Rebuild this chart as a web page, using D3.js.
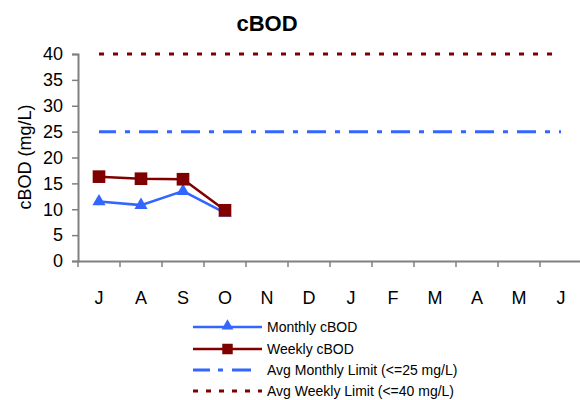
<!DOCTYPE html>
<html><head><meta charset="utf-8">
<script src="https://cdn.jsdelivr.net/npm/d3@7"></script>
<style>body{margin:0;background:#fff}svg{display:block;font-family:Arial,"Liberation Sans",sans-serif}</style>
</head><body><svg id="c" width="580" height="400"></svg>
<script>
const months = ["J","A","S","O","N","D","J","F","M","A","M","J"];
const monthlyCBOD = [11.5, 10.8, 13.5, 9.3];
const weeklyCBOD = [16.3, 15.9, 15.8, 9.8];
const monthlyLimit = 25;
const weeklyLimit = 40;
const yTicks = [0,5,10,15,20,25,30,35,40];
const legendLabels = ["Monthly cBOD","Weekly cBOD","Avg Monthly Limit (<=25 mg/L)","Avg Weekly Limit (<=40 mg/L)"];

const FF = 'Arial,"Liberation Sans",sans-serif';
const svg = d3.select("#c");
const L = 78, R = 582, T = 54, B = 261;
const idx = months.map((d,i)=>i);
const x = d3.scaleBand().domain(idx).range([L,R]);
const cx = i => x(i) + x.bandwidth()/2;
const y = d3.scaleLinear().domain([0,40]).range([B,T]);
const blue = "#3366ff", red = "#800000", grey = "#808080";

svg.append("text").attr("x",267).attr("y",31).attr("text-anchor","middle")
  .attr("font-size",22).attr("font-weight","bold").text("cBOD");

// y axis
const ya = svg.append("g").attr("transform",`translate(${L},0)`)
  .call(d3.axisLeft(y).tickValues(yTicks).tickSize(6).tickPadding(9));
ya.attr("font-family",FF);
ya.select(".domain").attr("stroke",grey).attr("stroke-width",2);
ya.selectAll(".tick line").attr("stroke",grey).attr("stroke-width",1.5);
ya.selectAll("text").attr("font-size",18).attr("fill","#000");

// x axis
const xa = svg.append("g").attr("transform",`translate(0,${B})`)
  .call(d3.axisBottom(x).tickSize(0).tickPadding(30).tickFormat(i=>months[i]));
xa.attr("font-family",FF);
xa.select(".domain").attr("stroke",grey).attr("stroke-width",2);
xa.selectAll("text").attr("font-size",18).attr("fill","#000");
svg.append("g").selectAll("line").data(d3.range(months.length+1)).join("line")
  .attr("x1",i=>L+i*x.step()).attr("x2",i=>L+i*x.step())
  .attr("y1",B).attr("y2",B+6).attr("stroke",grey).attr("stroke-width",1.5);

// y label
svg.append("text").attr("transform","translate(31,157) rotate(-90)")
  .attr("text-anchor","middle").attr("font-size",18).text("cBOD (mg/L)");

// limit lines
const x0 = cx(0), x1 = cx(months.length-1);
svg.append("line").attr("x1",x0).attr("x2",x1).attr("y1",y(weeklyLimit)).attr("y2",y(weeklyLimit))
  .attr("stroke",red).attr("stroke-width",3).attr("stroke-dasharray","5,9");
svg.append("line").attr("x1",x0).attr("x2",x1).attr("y1",y(monthlyLimit)).attr("y2",y(monthlyLimit))
  .attr("stroke",blue).attr("stroke-width",3).attr("stroke-dasharray","19,9,5,9").attr("stroke-dashoffset",2);

const line = d3.line().x((d,i)=>cx(i)).y(d=>y(d));
svg.append("path").datum(monthlyCBOD).attr("d",line).attr("fill","none").attr("stroke",blue).attr("stroke-width",2.5);
svg.append("path").datum(weeklyCBOD).attr("d",line).attr("fill","none").attr("stroke",red).attr("stroke-width",2.5);

const tri = d3.symbol().type(d3.symbolTriangle).size(75);
const sq = d3.symbol().type(d3.symbolSquare).size(160);
svg.append("g").selectAll("path").data(monthlyCBOD).join("path")
  .attr("d",tri).attr("transform",(d,i)=>`translate(${cx(i)},${y(d)})`).attr("fill",blue);
svg.append("g").selectAll("path").data(weeklyCBOD).join("path")
  .attr("d",sq).attr("transform",(d,i)=>`translate(${cx(i)},${y(d)})`).attr("fill",red);

// legend
const lg = svg.append("g");
const ly = [327,349,370,391];
const lx0 = 193, lx1 = 262;
lg.append("line").attr("x1",lx0).attr("x2",lx1).attr("y1",ly[0]).attr("y2",ly[0]).attr("stroke",blue).attr("stroke-width",2.5);
lg.append("path").attr("d",d3.symbol().type(d3.symbolTriangle).size(60)).attr("transform",`translate(${(lx0+lx1)/2},${ly[0]-1})`).attr("fill",blue);
lg.append("line").attr("x1",lx0).attr("x2",lx1).attr("y1",ly[1]).attr("y2",ly[1]).attr("stroke",red).attr("stroke-width",2.5);
lg.append("path").attr("d",d3.symbol().type(d3.symbolSquare).size(110)).attr("transform",`translate(${(lx0+lx1)/2},${ly[1]})`).attr("fill",red);
lg.append("line").attr("x1",lx0).attr("x2",lx1).attr("y1",ly[2]).attr("y2",ly[2]).attr("stroke",blue).attr("stroke-width",3).attr("stroke-dasharray","17,8,5,9,19");
lg.append("line").attr("x1",lx0).attr("x2",lx1).attr("y1",ly[3]).attr("y2",ly[3]).attr("stroke",red).attr("stroke-width",3).attr("stroke-dasharray","5,8");
lg.selectAll("text").data(legendLabels).join("text")
  .attr("x",267).attr("y",(d,i)=>ly[i]+5).attr("font-size",14).text(d=>d);
</script></body></html>
